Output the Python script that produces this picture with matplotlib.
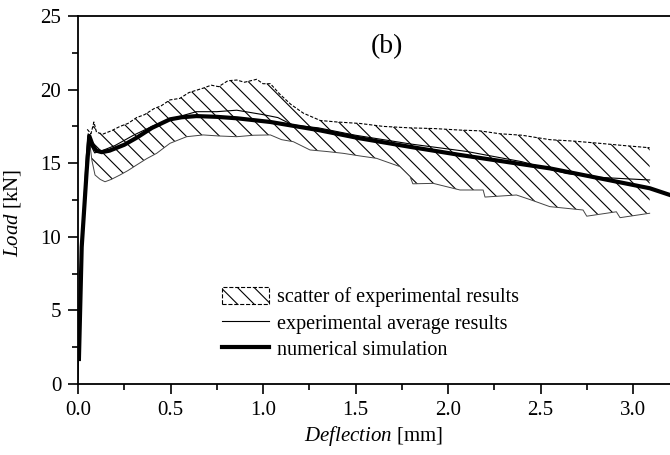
import numpy as np
import matplotlib as mpl
mpl.use('Agg')
import matplotlib.pyplot as plt
from matplotlib.patches import Patch
from matplotlib.lines import Line2D

plt.rcParams['font.family'] = ['Liberation Serif', 'DejaVu Serif']
plt.rcParams['mathtext.fontset'] = 'custom'
plt.rcParams['mathtext.rm'] = 'Liberation Serif'
plt.rcParams['mathtext.it'] = 'Liberation Serif:italic'
plt.rcParams['hatch.linewidth'] = 0.8

# numerical simulation (thick line)
sim_x = [0.005, 0.02, 0.047, 0.061, 0.08, 0.1, 0.128, 0.17, 0.25, 0.317, 0.4, 0.497,
         0.56, 0.64, 0.75, 0.86, 1.04, 1.3, 1.524, 1.8, 2.065, 2.55, 3.09, 3.2]
sim_y = [1.7, 9.3, 14.5, 16.85, 16.2, 15.85, 15.75, 15.85, 16.25, 16.73, 17.4, 17.98,
         18.12, 18.2, 18.15, 18.05, 17.8, 17.25, 16.69, 16.1, 15.56, 14.65, 13.3, 12.84]

# experimental average (thin line)
avg_x = [0.0, 0.02, 0.045, 0.055, 0.07, 0.09, 0.12, 0.2, 0.3, 0.4, 0.5, 0.64, 0.75,
         0.858, 1.0, 1.08, 1.16, 1.3, 1.5, 1.8, 2.1, 2.4, 2.64, 2.82, 2.95, 3.09]
avg_y = [0.3, 9.5, 15.5, 17.0, 16.2, 15.7, 15.8, 16.2, 16.9, 17.5, 18.0, 18.5, 18.5,
         18.6, 18.3, 18.1, 17.6, 17.4, 16.9, 16.3, 15.8, 15.1, 14.3, 14.04, 13.95, 13.86]

# scatter band: upper bound
up_x = [0.05, 0.07, 0.086, 0.1, 0.135, 0.18, 0.227, 0.27, 0.317, 0.36, 0.41, 0.45, 0.497,
        0.55, 0.6, 0.677, 0.72, 0.76, 0.81, 0.858, 0.9, 0.966, 1.0, 1.04, 1.09, 1.15,
        1.218, 1.31, 1.4, 1.524, 1.65, 1.795, 1.93, 2.065, 2.17, 2.28, 2.4, 2.55,
        2.68, 2.82, 2.95, 3.09]
up_y = [17.3, 17.0, 17.8, 17.1, 16.98, 17.2, 17.5, 17.7, 18.1, 18.3, 18.7, 18.9, 19.3,
        19.4, 19.8, 20.1, 20.3, 20.2, 20.6, 20.65, 20.5, 20.7, 20.4, 20.4, 19.7, 19.0,
        18.4, 17.9, 17.8, 17.7, 17.5, 17.4, 17.35, 17.25, 17.2, 17.0, 16.9, 16.6,
        16.5, 16.35, 16.2, 16.05]

# scatter band: lower bound
lo_x = [0.06, 0.075, 0.092, 0.12, 0.146, 0.18, 0.227, 0.27, 0.317, 0.37, 0.425, 0.497,
        0.587, 0.677, 0.76, 0.858, 0.95, 1.04, 1.1, 1.164, 1.254, 1.34, 1.434, 1.52,
        1.614, 1.74, 1.795, 1.81, 1.92, 2.065, 2.19, 2.2, 2.37, 2.45, 2.55, 2.73,
        2.75, 2.91, 2.93, 3.09]
lo_y = [16.8, 15.2, 14.2, 13.9, 13.74, 13.9, 14.2, 14.5, 14.88, 15.3, 15.67, 16.35,
        16.8, 16.92, 16.85, 16.8, 16.9, 16.92, 16.6, 16.46, 15.9, 15.8, 15.67, 15.5,
        15.33, 14.77, 14.09, 13.6, 13.63, 13.18, 13.18, 12.7, 12.84, 12.5, 12.05, 11.82,
        11.4, 11.7, 11.3, 11.6]

fig = plt.figure(figsize=(6.7, 4.55), dpi=100)
ax = fig.add_axes([78 / 670, 71 / 455, 592 / 670, 368 / 455])

# hatched band between the bounds, drawn as one polygon
band_x = np.r_[up_x, lo_x[::-1]]
band_y = np.r_[up_y, lo_y[::-1]]
ax.fill(band_x, band_y, fill=False, hatch='\\\\', lw=0, edgecolor='k')
ax.plot(up_x, up_y, color='k', lw=0.8, ls=(0, (3, 1.5)))
ax.plot(lo_x, lo_y, color='#444444', lw=0.7)
ax.plot(avg_x, avg_y, color='k', lw=0.8)
ax.plot(sim_x, sim_y, color='k', lw=3)

ax.set_xlim(0, 3.2)
ax.set_ylim(0, 25)
ax.set_xticks([0, 0.5, 1.0, 1.5, 2.0, 2.5, 3.0])
ax.set_xticks(np.arange(0.25, 3.2, 0.5), minor=True)
ax.set_yticks([0, 5, 10, 15, 20, 25])
ax.set_yticks(np.arange(2.5, 25, 5), minor=True)
ax.xaxis.set_major_formatter(plt.FormatStrFormatter('%.1f'))
ax.tick_params(which='major', direction='out', length=7, width=1.2, labelsize=15, pad=5)
ax.tick_params(which='minor', direction='out', length=4, width=1.2)
ax.spines['right'].set_visible(False)
for s in ['left', 'bottom', 'top']:
    ax.spines[s].set_linewidth(1.3)

ax.set_xlabel(r'$\it{Deflection}$ [mm]', fontsize=15, labelpad=3)
ax.set_ylabel(r'$\it{Load}$ [kN]', fontsize=15)
ax.yaxis.set_label_coords(-0.093, 0.465)
ax.text(1.67, 22.9, '(b)', fontsize=20, ha='center', va='center')

handles = [Patch(facecolor='none', edgecolor='k', hatch='\\\\', linestyle='--', lw=0.8),
           Line2D([], [], color='k', lw=0.8),
           Line2D([], [], color='k', lw=3)]
labels = ['scatter of experimental results', 'experimental average results',
          'numerical simulation']
ax.legend(handles, labels, loc='upper left', bbox_to_anchor=(0.243, 0.264),
          frameon=False, fontsize=14.5, borderpad=0, borderaxespad=0,
          handlelength=2.35, handleheight=0.9, handletextpad=0.4, labelspacing=0.3)

fig.savefig('out.png')
